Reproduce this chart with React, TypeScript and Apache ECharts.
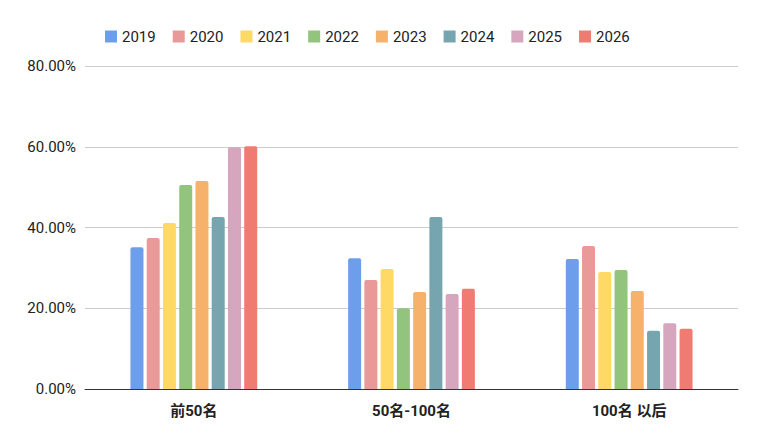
import { useEffect, useRef } from 'react';
import * as echarts from 'echarts';

const categories = ['前50名', '50名-100名', '100名 以后'];
const years = ['2019', '2020', '2021', '2022', '2023', '2024', '2025', '2026'];
const colors = ['#6d9eeb', '#ea9999', '#ffd966', '#93c47d', '#f6b26b', '#76a5af', '#d5a6bd', '#f07b72'];
const values = [
  [35.1, 32.4, 32.2],
  [37.4, 27.0, 35.4],
  [41.1, 29.7, 29.0],
  [50.5, 20.0, 29.5],
  [51.5, 24.0, 24.3],
  [42.6, 42.6, 14.4],
  [59.9, 23.5, 16.3],
  [60.1, 24.8, 14.9],
];

const App = () => {
  const chartRef = useRef<HTMLDivElement>(null);

  useEffect(() => {
    if (!chartRef.current) return;
    const chart = echarts.init(chartRef.current, null, { renderer: 'svg' });
    chart.setOption({
      animation: false,
      textStyle: { fontFamily: 'Roboto, "Noto Sans CJK SC", sans-serif' },
      legend: {
        top: 16,
        left: 92,
        itemWidth: 12,
        itemHeight: 12,
        itemGap: 17,
        icon: 'rect',
        textStyle: { fontSize: 15, color: '#222' },
        data: years,
      },
      grid: { left: 77, right: 14, top: 58, bottom: 45 },
      xAxis: {
        type: 'category',
        data: categories,
        axisTick: { show: false },
        axisLine: { lineStyle: { color: '#333' } },
        axisLabel: { fontSize: 15, fontWeight: 'bold', color: '#222', margin: 14 },
      },
      yAxis: {
        type: 'value',
        min: 0,
        max: 80,
        interval: 20,
        axisLabel: { fontSize: 15, color: '#222', formatter: (v: number) => v.toFixed(2) + '%', margin: 9 },
        splitLine: { lineStyle: { color: '#ccc' } },
      },
      series: years.map((y, i) => ({
        name: y,
        type: 'bar',
        data: values[i],
        barWidth: 13,
        barGap: '25%',
        itemStyle: { color: colors[i], borderRadius: [2, 2, 0, 0] },
      })),
    });
    return () => chart.dispose();
  }, []);

  return <div ref={chartRef} style={{ width: 744, height: 426 }} />;
};

export default App;
